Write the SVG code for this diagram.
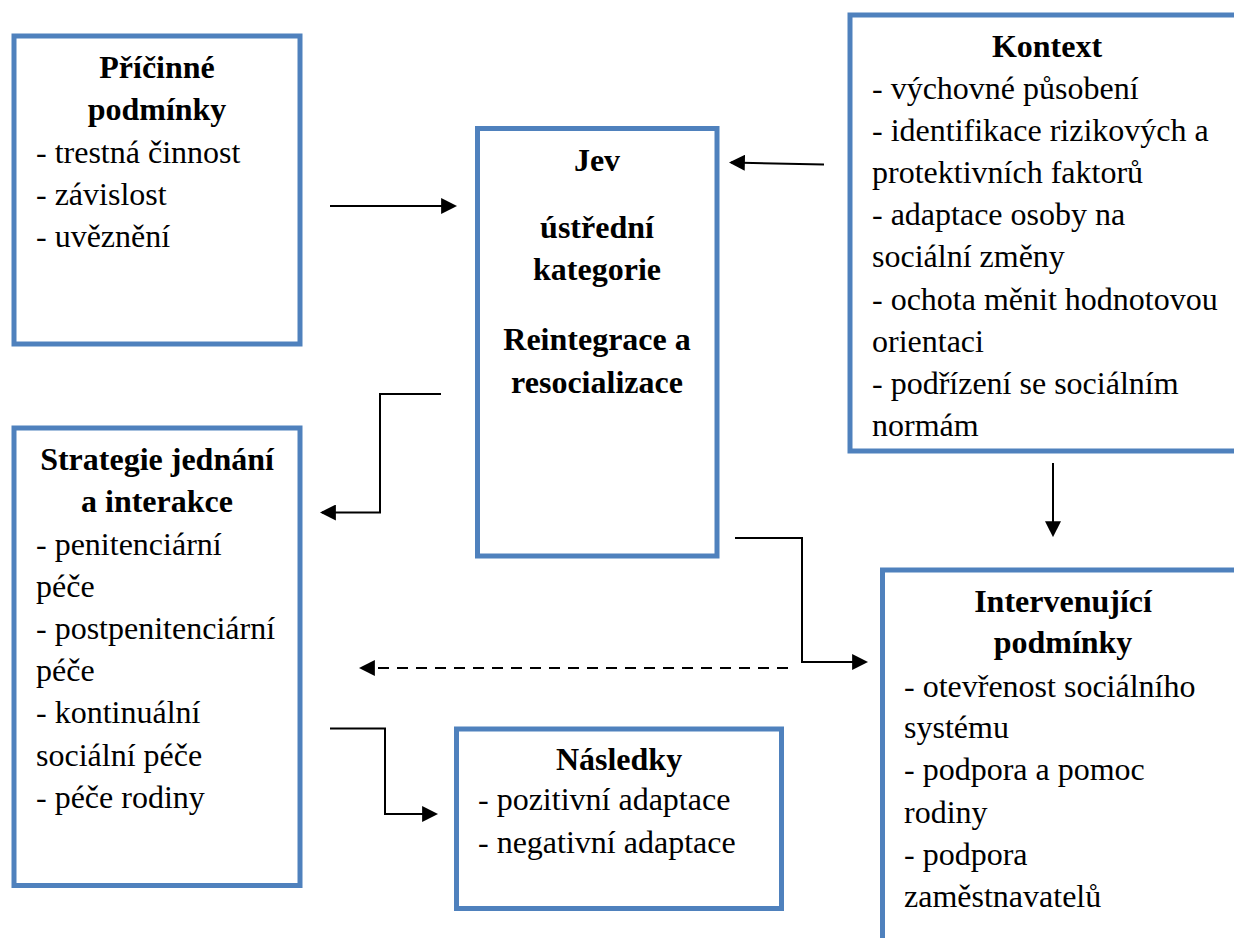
<svg xmlns="http://www.w3.org/2000/svg" width="1234" height="938" viewBox="0 0 1234 938">
<style>
.box{fill:#fff;stroke:#4F81BD;stroke-width:5}
.t{font-family:"Liberation Serif","Times New Roman",serif;font-size:32px;fill:#000}
.b{font-weight:bold;text-anchor:middle}
.c{fill:none;stroke:#000;stroke-width:2}
.d{stroke-dasharray:11 8}
</style>
<defs>
<marker id="ah" markerUnits="userSpaceOnUse" markerWidth="16" markerHeight="16" viewBox="0 0 15 15" refX="13" refY="7.5" orient="auto">
<path d="M0,0 L15,7.5 L0,15 z" fill="#000"/>
</marker>
</defs>
<rect width="1234" height="938" fill="#fff"/>
<g id="pricinne">
<rect class="box" x="14" y="36" width="286" height="308"/>
<text class="t b" x="157" y="78">Příčinné</text>
<text class="t b" x="157" y="120">podmínky</text>
<text class="t" x="36" y="163">- trestná činnost</text>
<text class="t" x="36" y="205">- závislost</text>
<text class="t" x="36" y="247">- uvěznění</text>
</g>
<g id="jev">
<rect class="box" x="477.5" y="128.5" width="239.5" height="427.5"/>
<text class="t b" x="597" y="171">Jev</text>
<text class="t b" x="597" y="238">ústřední</text>
<text class="t b" x="597" y="280">kategorie</text>
<text class="t b" x="597" y="350">Reintegrace a</text>
<text class="t b" x="597" y="393">resocializace</text>
</g>
<g id="kontext">
<rect class="box" x="850" y="15" width="420" height="436"/>
<text class="t b" x="1047" y="57">Kontext</text>
<text class="t" x="872" y="99">- výchovné působení</text>
<text class="t" x="872" y="141">- identifikace rizikových a</text>
<text class="t" x="872" y="183">protektivních faktorů</text>
<text class="t" x="872" y="225">- adaptace osoby na</text>
<text class="t" x="872" y="267">sociální změny</text>
<text class="t" x="872" y="310">- ochota měnit hodnotovou</text>
<text class="t" x="872" y="352">orientaci</text>
<text class="t" x="872" y="394">- podřízení se sociálním</text>
<text class="t" x="872" y="436">normám</text>
</g>
<g id="strategie">
<rect class="box" x="14" y="428" width="286" height="457.5"/>
<text class="t b" x="157" y="470">Strategie jednání</text>
<text class="t b" x="157" y="512">a interakce</text>
<text class="t" x="36" y="555">- penitenciární</text>
<text class="t" x="36" y="597">péče</text>
<text class="t" x="36" y="639">- postpenitenciární</text>
<text class="t" x="36" y="681">péče</text>
<text class="t" x="36" y="723">- kontinuální</text>
<text class="t" x="36" y="766">sociální péče</text>
<text class="t" x="36" y="808">- péče rodiny</text>
</g>
<g id="intervenujici">
<rect class="box" x="882.5" y="570" width="400" height="420"/>
<text class="t b" x="1063" y="612">Intervenující</text>
<text class="t b" x="1063" y="653">podmínky</text>
<text class="t" x="904" y="697">- otevřenost sociálního</text>
<text class="t" x="904" y="738">systému</text>
<text class="t" x="904" y="780">- podpora a pomoc</text>
<text class="t" x="904" y="823">rodiny</text>
<text class="t" x="904" y="865">- podpora</text>
<text class="t" x="904" y="907">zaměstnavatelů</text>
</g>
<g id="nasledky">
<rect class="box" x="456.5" y="729" width="325" height="179.5"/>
<text class="t b" x="619" y="770">Následky</text>
<text class="t" x="478" y="810">- pozitivní adaptace</text>
<text class="t" x="478" y="853">- negativní adaptace</text>
</g>
<g id="connectors">
<path class="c" marker-end="url(#ah)" d="M330,206 H455"/>
<path class="c" marker-end="url(#ah)" d="M824,164.5 L731,162.5"/>
<path class="c" marker-end="url(#ah)" d="M441,394 H380 V512.5 H322"/>
<path class="c" marker-end="url(#ah)" d="M735,538 H802 V662 H866"/>
<path class="c" marker-end="url(#ah)" d="M1053,463 V535"/>
<path class="c d" marker-end="url(#ah)" d="M788,668 H361"/>
<path class="c" marker-end="url(#ah)" d="M330,728.5 H385 V814 H436"/>
</g>
</svg>
